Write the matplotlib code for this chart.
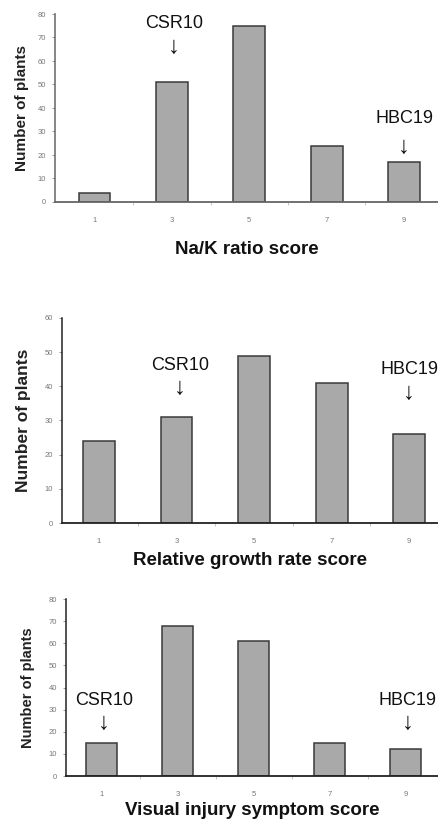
import matplotlib
matplotlib.use("Agg")
from matplotlib import pyplot as plt

plt.rcParams['font.family'] = ['Liberation Sans', 'DejaVu Sans']

scores = [1, 3, 5, 7, 9]

nak_counts = [4, 51, 75, 24, 17]
growth_counts = [24, 31, 49, 41, 26]
injury_counts = [15, 68, 61, 15, 12]

xlabels = ["Na/K ratio score", "Relative growth rate score", "Visual injury symptom score"]
ymax = [80, 60, 80]
ysteps = [10, 10, 10]

# (label, score, y of text, y of arrow) per panel
notes = [
    [("CSR10", 3.05, 76, 66), ("HBC19", 9, 35.7, 23.4)],
    [("CSR10", 3.08, 46.2, 39.5), ("HBC19", 9, 44.8, 38.0)],
    [("CSR10", 1.07, 34.3, 24.0), ("HBC19", 9.05, 34.3, 24.0)],
]

data = [nak_counts, growth_counts, injury_counts]

W, H = 439, 822
fig = plt.figure(figsize=(W / 100, H / 100), dpi=100)

# axes boxes in pixels: left, bottom(y of zero), top(y of max)
boxes = [(55, 202, 14), (62, 523, 318), (66, 776, 599)]
xlims = [(-0.02, 9.9), (0.045, 9.77), (0.066, 9.88)]
ylab_size = [11, 12.5, 10.5]
ylab_pad = [6, 10, 10]
spine_col = ["#666666", "#222222", "#222222"]
xlab_pad = [12, 5, 2.5]

for i in range(3):
    left, y0, y1 = boxes[i]
    ax = fig.add_axes([left / W, 1 - y0 / H, (W - left) / W, (y0 - y1) / H])
    ax.bar(scores, data[i], width=0.82, color="#a9a9a9", edgecolor="#3a3a3a", linewidth=1.1, zorder=2)
    ax.set_xlim(*xlims[i])
    ax.set_ylim(0, ymax[i])
    ax.set_yticks(range(0, ymax[i] + 1, ysteps[i]))
    ax.set_xticks(scores)
    ax.set_xticks([2, 4, 6, 8], minor=True)
    ax.tick_params(axis="x", which="major", length=0, labelsize=5.5, labelcolor="#777777", pad=11)
    ax.tick_params(axis="x", which="minor", length=2, color="#bbbbbb", width=0.6)
    ax.tick_params(axis="y", length=2.5, width=0.6, color="#888888", labelsize=5.5, labelcolor="#777777", pad=4)
    for s in ["top", "right"]:
        ax.spines[s].set_visible(False)
    ax.spines["left"].set_color(spine_col[i])
    ax.spines["bottom"].set_color(spine_col[i])
    ax.spines["left"].set_linewidth(1.1)
    ax.spines["bottom"].set_linewidth(1.3)
    ax.set_xlabel(xlabels[i], fontsize=13.5, fontweight="bold", color="#111111", labelpad=xlab_pad[i])
    ax.set_ylabel("Number of plants", fontsize=ylab_size[i], fontweight="bold", color="#222222", labelpad=ylab_pad[i])
    for name, x, ty, ay in notes[i]:
        ax.text(x, ty, name, ha="center", va="center", fontsize=13, color="#111111")
        ax.text(x, ay, "\u2193", ha="center", va="center", fontsize=17, color="#111111")

fig.savefig("out.png", dpi=100)
